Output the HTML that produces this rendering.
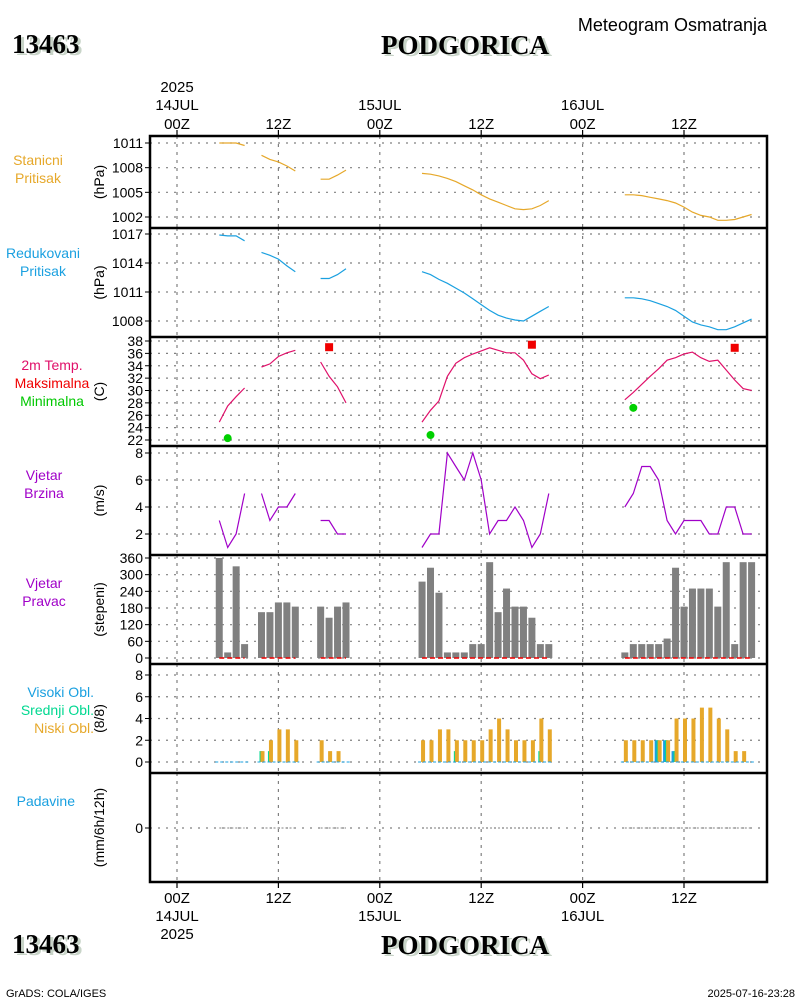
<!DOCTYPE html>
<html><head><meta charset="utf-8">
<style>
html,body{margin:0;padding:0;background:#fff;}
svg{display:block;font-family:"Liberation Sans",sans-serif;}
</style></head>
<body>
<svg id="chart" width="800" height="1000" viewBox="0 0 800 1000" xmlns="http://www.w3.org/2000/svg">
<g id="header">
  <text x="15" y="55" font-family="Liberation Serif" font-weight="bold" font-size="27" fill="#c8d4c8">13463</text>
  <text x="12" y="53" font-family="Liberation Serif" font-weight="bold" font-size="27" fill="#000">13463</text>
  <text x="468" y="56" text-anchor="middle" font-family="Liberation Serif" font-weight="bold" font-size="27" fill="#c8d4c8">PODGORICA</text>
  <text x="465" y="54" text-anchor="middle" font-family="Liberation Serif" font-weight="bold" font-size="27" fill="#000">PODGORICA</text>
  <text x="767" y="31" text-anchor="end" font-size="18" fill="#000">Meteogram Osmatranja</text>
</g>
<g id="footer">
  <text x="15" y="955" font-family="Liberation Serif" font-weight="bold" font-size="27" fill="#c8d4c8">13463</text>
  <text x="12" y="953" font-family="Liberation Serif" font-weight="bold" font-size="27" fill="#000">13463</text>
  <text x="468" y="956" text-anchor="middle" font-family="Liberation Serif" font-weight="bold" font-size="27" fill="#c8d4c8">PODGORICA</text>
  <text x="465" y="954" text-anchor="middle" font-family="Liberation Serif" font-weight="bold" font-size="27" fill="#000">PODGORICA</text>
  <text x="6" y="997" font-size="11" fill="#000">GrADS: COLA/IGES</text>
  <text x="795" y="997" text-anchor="end" font-size="11" fill="#000">2025-07-16-23:28</text>
</g>
<g id="plots"></g>
</svg>
<script>
// ---- data ----
const timeTickHours = [0,12,24,36,48,60];
const timeTickLabels = ["00Z","12Z","00Z","12Z","00Z","12Z"];
const dayLabels = ["14JUL","15JUL","16JUL"];
const dayHours = [0,24,48];

const segStarts = [5,10,17,29,53];
const stationP = [
 [1011,1011,1011,1010.7],
 [1009.5,1009.0,1008.7,1008.2,1007.6],
 [1006.6,1006.6,1007.1,1007.7],
 [1007.3,1007.2,1007.0,1006.7,1006.3,1005.8,1005.3,1004.7,1004.2,1003.8,1003.4,1003.0,1002.9,1003.0,1003.4,1004.0],
 [1004.7,1004.7,1004.6,1004.4,1004.2,1004.0,1003.7,1003.2,1002.6,1002.2,1002.0,1001.6,1001.6,1001.7,1002.0,1002.3]
];
const reducedP = [
 [1016.9,1016.8,1016.8,1016.3],
 [1015.1,1014.8,1014.4,1013.7,1013.1],
 [1012.4,1012.4,1012.8,1013.4],
 [1013.1,1012.8,1012.3,1011.9,1011.4,1010.9,1010.3,1009.7,1009.1,1008.6,1008.3,1008.1,1008.0,1008.5,1009.0,1009.5],
 [1010.4,1010.4,1010.3,1010.1,1009.8,1009.5,1009.1,1008.5,1007.9,1007.6,1007.4,1007.1,1007.1,1007.4,1007.8,1008.2]
];
const temp = [
 [24.9,27.5,29.0,30.4],
 [33.8,34.3,35.5,36.1,36.5],
 [34.6,32.3,30.6,28.0],
 [24.9,26.8,28.3,32.3,34.4,35.3,35.9,36.4,36.9,36.5,36.1,36.1,34.9,32.7,31.9,32.5],
 [28.5,29.7,31.0,32.3,33.5,34.9,35.3,35.9,36.2,35.3,34.7,34.9,33.3,31.7,30.3,30.0]
];
const tmaxHours = [18,42,66];
const tmaxValues = [37.0,37.4,36.9];
const tminHours = [6,30,54];
const tminValues = [22.3,22.8,27.2];
const windSpeed = [
 [3,1,2,5],
 [5,3,4,4,5],
 [3,3,2,2],
 [1,2,2,8,7,6,8,6,2,3,3,4,3,1,2,5],
 [4,5,7,7,6,3,2,3,3,3,2,2,4,4,2,2]
];
const windDir = [
 [360,20,330,50],
 [165,165,200,200,185],
 [185,145,185,200],
 [275,325,235,20,20,20,50,50,345,165,250,185,185,145,50,50],
 [20,50,50,50,50,70,325,185,250,250,250,185,345,50,345,345]
];
const lowCloud = [
 [0,0,0,0],
 [1,2,3,3,2],
 [2,1,1,0],
 [2,2,3,3,2,2,2,2,3,4,3,2,2,2,4,3],
 [2,2,2,2,2,2,4,4,4,5,5,4,3,1,1,0]
];
const midCloud = [
 [0,0,0,0],
 [1,1,0,0,0],
 [0,0,0,0],
 [0,0,0,0,1,0,0,0,0,0,0,0,0,0,1,0],
 [0,0,0,0,2,2,1,0,0,0,0,0,0,0,0,0]
];
const highCloud = [
 [0,0,0,0],
 [0,0,0,0,0],
 [0,0,0,0],
 [0,0,0,0,0,0,0,0,0,0,0,0,0,0,0,0],
 [0,0,0,0,2,2,1,0,0,0,0,0,0,0,0,0]
];
const precip = [
 [0,0,0,0],[0,0,0,0,0],[0,0,0,0],
 [0,0,0,0,0,0,0,0,0,0,0,0,0,0,0,0],
 [0,0,0,0,0,0,0,0,0,0,0,0,0,0,0,0]
];
const pStnTicks = [1011,1008,1005,1002];
const pRedTicks = [1017,1014,1011,1008];
const tTicks = [38,36,34,32,30,28,26,24,22];
const wsTicks = [8,6,4,2];
const wdTicks = [360,300,240,180,120,60,0];
const cTicks = [8,6,4,2,0];
const prTicks = [0];

// ---- layout ----
const NS="http://www.w3.org/2000/svg";
const L=150,R=767;
const X=h=>177+h*8.45;
const root=document.getElementById('plots');
function mk(tag,attrs,parent){const e=document.createElementNS(NS,tag);for(const k in attrs)e.setAttribute(k,attrs[k]);(parent||root).appendChild(e);return e;}
function lin(d0,d1,p0,p1){return v=>p0+(v-d0)*(p1-p0)/(d1-d0);}

const panels=[
 {top:136,bot:228,name:'station-pressure',ticks:pStnTicks,y:lin(1011,1002,143,217),unit:'(hPa)',labels:[['Stanicni','#e6a82a'],['Pritisak','#e6a82a']],ly:165,lx:38,anchor:'middle'},
 {top:228,bot:337,name:'reduced-pressure',ticks:pRedTicks,y:lin(1017,1008,234,321),unit:'(hPa)',labels:[['Redukovani','#1aa0e0'],['Pritisak','#1aa0e0']],ly:258,lx:43,anchor:'middle'},
 {top:337,bot:446,name:'temperature',ticks:tTicks,y:lin(38,22,341,440),unit:'(C)',labels:[['2m Temp.','#e0106a'],['Maksimalna','#f00000'],['Minimalna','#00c800']],ly:370,lx:52,anchor:'middle'},
 {top:446,bot:555,name:'wind-speed',ticks:wsTicks,y:lin(8,2,453,534),unit:'(m/s)',labels:[['Vjetar','#a000c8'],['Brzina','#a000c8']],ly:480,lx:44,anchor:'middle'},
 {top:555,bot:664,name:'wind-direction',ticks:wdTicks,y:lin(360,0,558,658),unit:'(stepeni)',labels:[['Vjetar','#a000c8'],['Pravac','#a000c8']],ly:588,lx:44,anchor:'middle'},
 {top:664,bot:773,name:'clouds',ticks:cTicks,y:lin(8,0,675,762),unit:'(8/8)',labels:[['Visoki Obl.','#1aa0e0'],['Srednji Obl.','#00d890'],['Niski Obl.','#e6a82a']],ly:697,lx:94,anchor:'end'},
 {top:773,bot:882,name:'precipitation',ticks:prTicks,y:lin(0,1,828,800),unit:'(mm/6h/12h)',labels:[['Padavine','#1aa0e0']],ly:806,lx:75,anchor:'end'}
];

panels.forEach((p,pi)=>{
  const g=mk('g',{});
  
  
  p.ticks.forEach(t=>{
    const yy=p.y(t);
    const gl=mk('line',{x1:L,x2:R,y1:yy,y2:yy,stroke:'#808080','stroke-width':1.2,'stroke-dasharray':'2,6'},g);
    
    
    const tk=mk('line',{x1:L-5,x2:L,y1:yy,y2:yy,stroke:'#000','stroke-width':1},g);
    
    
    const tl=mk('text',{x:L-7,y:yy+5,'text-anchor':'end','font-size':14,fill:'#000'},g);
    tl.textContent=t;
    
    
  });
  timeTickHours.forEach(h=>{
    const vl=mk('line',{x1:X(h),x2:X(h),y1:p.top,y2:p.bot,stroke:'#808080','stroke-width':1.2,'stroke-dasharray':'3,5'},g);
    
    
  });
  const ux=104, uy=(p.top+p.bot)/2;
  const ut=mk('text',{x:ux,y:uy,'text-anchor':'middle','font-size':14,fill:'#000',transform:`rotate(-90 ${ux} ${uy})`},g);
  ut.textContent=p.unit;
  
  
  p.labels.forEach((lb,i)=>{
    const t=mk('text',{x:p.lx,y:p.ly+i*18,'text-anchor':p.anchor,'font-size':14,fill:lb[1]},g);
    t.textContent=lb[0];
    
    
  });
  p.g=g;
});

function seriesLine(p,data,color,name){
  data.forEach((seg,si)=>{
    const pts=seg.map((v,i)=>X(segStarts[si]+i).toFixed(1)+','+p.y(v).toFixed(1)).join(' ');
    const pl=mk('polyline',{points:pts,fill:'none',stroke:color,'stroke-width':1.2},p.g);
    
    
  });
}
seriesLine(panels[0],stationP,'#e6a82a','station-pressure-line');
seriesLine(panels[1],reducedP,'#1aa0e0','reduced-pressure-line');
seriesLine(panels[2],temp,'#e0106a','temperature-line');
seriesLine(panels[3],windSpeed,'#a000c8','wind-speed-line');

tmaxHours.forEach((h,i)=>{
  const r=mk('rect',{x:X(h)-4,y:panels[2].y(tmaxValues[i])-4,width:8,height:8,fill:'#f00000'},panels[2].g);
  
  
});
tminHours.forEach((h,i)=>{
  const c=mk('circle',{cx:X(h),cy:panels[2].y(tminValues[i]),r:4,fill:'#00d000'},panels[2].g);
  
  
});

const wd=panels[4];
windDir.forEach((seg,si)=>{
  seg.forEach((v,i)=>{
    const h=segStarts[si]+i, y0=wd.y(0), y1=wd.y(v);
    const b=mk('rect',{x:X(h)-3.5,y:y1,width:7,height:Math.max(0,y0-y1),fill:'#808080'},wd.g);
    
    
  });
  const rl=mk('line',{x1:X(segStarts[si]),x2:X(segStarts[si]+seg.length-1),y1:wd.y(0),y2:wd.y(0),stroke:'#f00000','stroke-width':1.5,'stroke-dasharray':'5,3'},wd.g);
  
  
});

const cp=panels[5];
function cloudBars(data,color,off,w,name){
  data.forEach((seg,si)=>seg.forEach((v,i)=>{
    if(v<=0)return;
    const h=segStarts[si]+i,y0=cp.y(0),y1=cp.y(v);
    const b=mk('rect',{x:X(h)+off,y:y1,width:w,height:y0-y1,fill:color},cp.g);
    
    
  }));
}
cloudBars(highCloud,'#1aa0e0',-4,4,'high-cloud-bar');
cloudBars(midCloud,'#00d890',-2,3,'mid-cloud-bar');
cloudBars(lowCloud,'#e6a82a',-1,4,'low-cloud-bar');
segStarts.forEach((s,si)=>{
  const n=lowCloud[si].length;
  const bl=mk('line',{x1:X(s)-4,x2:X(s+n-1)+4,y1:cp.y(0),y2:cp.y(0),stroke:'#1aa0e0','stroke-width':1,'stroke-dasharray':'3,2'},cp.g);
  
  
});

const pp=panels[6];
precip.forEach((seg,si)=>{
  const pts=seg.map((v,i)=>X(segStarts[si]+i).toFixed(1)+','+pp.y(v).toFixed(1)).join(' ');
  const pl=mk('polyline',{points:pts,fill:'none',stroke:'#808080','stroke-width':1,'stroke-dasharray':'2,2'},pp.g);
  
  
});

const fr=mk('rect',{x:L,y:136,width:R-L,height:882-136,fill:'none',stroke:'#000','stroke-width':2.5});


panels.slice(1).forEach(p=>{
  const s=mk('line',{x1:L,x2:R,y1:p.top,y2:p.top,stroke:'#000','stroke-width':2.5});
  
  
});

timeTickHours.forEach((h,i)=>{
  const t1=mk('line',{x1:X(h),x2:X(h),y1:130,y2:136,stroke:'#000','stroke-width':1.2});
  
  
  const a=mk('text',{x:X(h),y:129,'text-anchor':'middle','font-size':15,fill:'#000'});
  a.textContent=timeTickLabels[i];
  
  
  const t2=mk('line',{x1:X(h),x2:X(h),y1:882,y2:888,stroke:'#000','stroke-width':1.2});
  
  
  const b=mk('text',{x:X(h),y:903,'text-anchor':'middle','font-size':15,fill:'#000'});
  b.textContent=timeTickLabels[i];
  
  
});
dayHours.forEach((h,i)=>{
  const a=mk('text',{x:X(h),y:110,'text-anchor':'middle','font-size':15,fill:'#000'});
  a.textContent=dayLabels[i];
  
  
  const b=mk('text',{x:X(h),y:921,'text-anchor':'middle','font-size':15,fill:'#000'});
  b.textContent=dayLabels[i];
  
  
});
const ya=mk('text',{x:X(0),y:92,'text-anchor':'middle','font-size':15,fill:'#000'});
ya.textContent='2025';


const yb=mk('text',{x:X(0),y:939,'text-anchor':'middle','font-size':15,fill:'#000'});
yb.textContent='2025';


</script>
</body></html>
